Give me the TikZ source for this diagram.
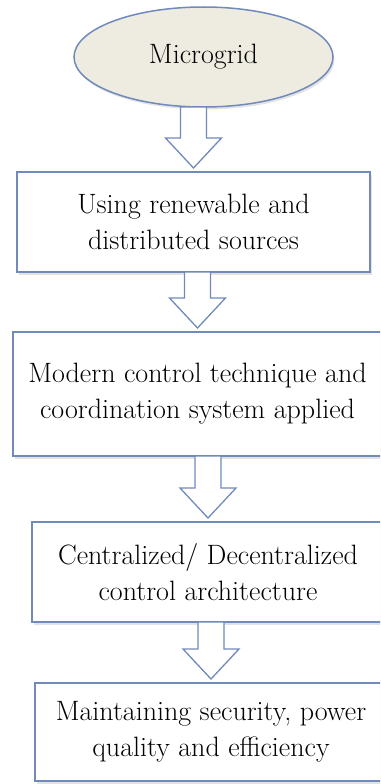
\documentclass[tikz,border=0pt]{standalone}
\usepackage{tikz}
\usetikzlibrary{calc,positioning,shapes.geometric,shadows}
\definecolor{edgeblue}{RGB}{112,138,188}
\definecolor{ovalfill}{RGB}{238,236,225}

\begin{document}
\begin{tikzpicture}[
    x=1pt, y=1pt,
    font=\fontsize{28}{36}\selectfont,
    lift/.style={drop shadow={opacity=0.22, shadow xshift=1.5pt, shadow yshift=-2.5pt}},
    oval/.style={ellipse, draw=edgeblue, line width=1.5pt, outer sep=0pt, fill=ovalfill, minimum width=259pt, minimum height=100pt, lift},
    box/.style={rectangle, draw=edgeblue, line width=1.5pt, outer sep=0pt, fill=white, minimum height=100pt, align=center, lift},
    hollow/.style={draw=edgeblue, line width=1.3pt, fill=white, to path={let \p1=(\tikztostart), \p2=(\tikztotarget) in
        (\x2-13,\y1) -- (\x2+13,\y1) -- (\x2+13,\y2+34) -- (\x2+28,\y2+34) -- (\x2,\y2+4) -- (\x2-28,\y2+34) -- (\x2-13,\y2+34) -- cycle}}
]
    \clip (0,0) rectangle (380,-784);
    \node[oval] (micro) at (203.5,-57) {Microgrid};
    \node[box, minimum width=353pt, below=65pt of micro, xshift=-10pt] (n1) {Using renewable and\\distributed sources};
    \node[box, minimum width=369pt, minimum height=124pt, below=60pt of n1, xshift=4pt] (n2) {Modern control technique and\\coordination system applied};
    \node[box, minimum width=352pt, below=66pt of n2, xshift=10.5pt] (n3) {Centralized/ Decentralized\\control architecture};
    \node[box, minimum width=352pt, minimum height=98pt, below=61pt of n3, xshift=3pt] (n4) {Maintaining security, power\\quality and efficiency};
    \draw[hollow] (micro.south) to (n1.north);
    \draw[hollow] (n1.south) to (n2.north);
    \draw[hollow] (n2.south) to (n3.north);
    \draw[hollow] (n3.south) to (n4.north);
\end{tikzpicture}
\end{document}
